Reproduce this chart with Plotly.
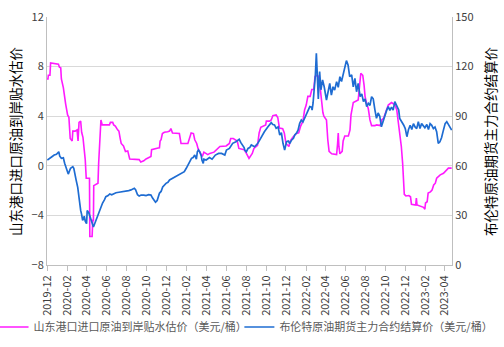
import plotly.graph_objects as go

# ---- data ----
blue_name = "布伦特原油期货主力合约结算价（美元/桶）"
pink_name = "山东港口进口原油到岸贴水估价（美元/桶）"

blue_dates = [
    "2019-12-02","2019-12-09","2019-12-16","2019-12-23","2019-12-30","2020-01-06","2020-01-09","2020-01-14",
    "2020-01-20","2020-01-24","2020-01-31","2020-02-04","2020-02-11","2020-02-18","2020-02-21","2020-02-25",
    "2020-02-28","2020-03-04","2020-03-06","2020-03-09","2020-03-13","2020-03-16","2020-03-19","2020-03-24",
    "2020-03-27","2020-03-31","2020-04-02","2020-04-07","2020-04-11","2020-04-15","2020-04-17","2020-04-21",
    "2020-04-24","2020-04-29","2020-05-05","2020-05-09","2020-05-14","2020-05-19","2020-05-25","2020-05-29",
    "2020-06-05","2020-06-10","2020-06-16","2020-06-22","2020-06-29","2020-07-08","2020-07-19","2020-07-30",
    "2020-08-07","2020-08-14","2020-08-24","2020-08-28","2020-09-03","2020-09-08","2020-09-14","2020-09-22",
    "2020-09-29","2020-10-07","2020-10-14","2020-10-19","2020-10-23","2020-10-28","2020-11-02","2020-11-09",
    "2020-11-14","2020-11-19","2020-11-29","2020-12-05","2020-12-10","2020-12-20","2020-12-30","2021-01-09",
    "2021-01-15","2021-01-24","2021-01-30","2021-02-04","2021-02-09","2021-02-15","2021-02-20","2021-02-25",
    "2021-03-02","2021-03-05","2021-03-08","2021-03-12","2021-03-17","2021-03-19","2021-03-23","2021-03-25",
    "2021-04-01","2021-04-11","2021-04-19","2021-04-29","2021-05-09","2021-05-18","2021-05-28","2021-06-02",
    "2021-06-11","2021-06-21","2021-07-01","2021-07-11","2021-07-16","2021-07-21","2021-07-26","2021-07-28",
    "2021-08-02","2021-08-07","2021-08-12","2021-08-17","2021-08-27","2021-09-06","2021-09-11","2021-09-16",
    "2021-09-26","2021-10-07","2021-10-17","2021-10-22","2021-10-27","2021-11-01","2021-11-07","2021-11-12",
    "2021-11-17","2021-11-22","2021-11-27","2021-12-03","2021-12-08","2021-12-13","2021-12-18","2021-12-24",
    "2021-12-28","2022-01-03","2022-01-07","2022-01-12","2022-01-17","2022-01-22","2022-01-27","2022-02-02",
    "2022-02-07","2022-02-12","2022-02-17","2022-02-19","2022-02-22","2022-02-25","2022-03-01","2022-03-04",
    "2022-03-07","2022-03-10","2022-03-14","2022-03-18","2022-03-23","2022-03-28","2022-04-04","2022-04-09",
    "2022-04-14","2022-04-19","2022-04-24","2022-04-29","2022-05-05","2022-05-10","2022-05-15","2022-05-20",
    "2022-05-25","2022-05-30","2022-06-04","2022-06-09","2022-06-14","2022-06-20","2022-06-25","2022-06-30",
    "2022-07-05","2022-07-10","2022-07-16","2022-07-21","2022-07-26","2022-07-31","2022-08-05","2022-08-10",
    "2022-08-15","2022-08-20","2022-08-25","2022-08-30","2022-09-04","2022-09-09","2022-09-14","2022-09-19",
    "2022-09-24","2022-09-30","2022-10-05","2022-10-10","2022-10-15","2022-10-20","2022-10-25","2022-10-30",
    "2022-11-06","2022-11-11","2022-11-14","2022-11-21","2022-11-26","2022-12-01","2022-12-06","2022-12-11",
    "2022-12-16","2022-12-21","2022-12-26","2022-12-31","2023-01-05","2023-01-10","2023-01-15","2023-01-20",
    "2023-01-25","2023-01-30","2023-02-05","2023-02-10","2023-02-15","2023-02-20","2023-02-25","2023-03-02",
    "2023-03-07","2023-03-12","2023-03-17","2023-03-22","2023-03-27","2023-04-02","2023-04-07","2023-04-12",
    "2023-04-17","2023-04-22",
]
blue_values = [
    63.5,64.8,65.5,66.5,67.0,68.5,65.8,64.5,
    64.8,61.5,57.5,55.0,58.5,59.5,58.5,55.5,
    51.5,47.0,44.0,37.0,33.0,30.5,27.0,29.5,
    26.5,25.0,33.0,31.5,29.0,27.5,25.5,23.0,
    24.5,27.0,30.5,33.0,35.0,37.5,39.5,41.3,
    42.0,43.0,42.5,43.3,43.7,44.0,44.3,44.5,
    45.0,45.4,46.4,45.5,42.5,41.7,42.3,42.3,
    42.0,42.5,42.3,40.5,39.5,38.0,39.0,43.4,
    44.5,47.2,49.4,50.0,51.4,52.5,53.4,55.0,
    55.5,56.4,58.5,60.5,62.5,64.5,65.0,66.5,
    64.0,68.5,69.5,68.5,66.0,63.5,61.5,64.0,
    63.5,65.0,64.0,66.5,67.5,67.5,66.5,69.5,
    70.5,73.6,74.6,76.0,74.0,72.6,71.0,69.5,
    68.5,70.5,71.0,72.6,71.5,73.6,75.6,77.6,
    80.6,83.6,86.1,85.0,84.7,82.7,83.5,78.6,
    80.0,73.6,69.5,74.6,75.0,73.5,75.5,76.6,
    78.6,80.0,81.6,85.7,87.7,86.5,88.7,90.7,
    93.7,95.8,95.5,93.7,98.0,103.8,114.9,128.0,
    112.0,100.5,117.0,106.0,112.0,107.8,99.8,105.8,
    109.9,102.8,107.8,105.8,110.9,107.5,113.9,111.0,
    115.9,118.9,123.6,121.0,113.9,115.0,107.8,112.9,
    104.8,109.9,101.8,103.5,98.8,100.5,95.8,97.8,
    96.5,101.8,100.5,94.0,88.7,92.0,90.0,83.6,
    87.0,91.7,93.5,95.8,93.5,95.5,93.7,98.8,
    96.0,93.7,88.7,86.7,84.7,82.5,77.6,82.0,
    84.5,82.0,85.5,83.5,82.5,86.7,82.5,85.5,
    84.0,83.0,85.0,82.0,85.5,84.5,82.5,83.5,
    80.6,73.6,74.5,77.0,81.0,85.5,86.7,85.0,
    82.7,81.6,
]

pink_dates = [
    "2019-12-01","2019-12-04","2019-12-05","2019-12-10","2019-12-12","2019-12-25","2020-01-05","2020-01-08",
    "2020-01-12","2020-01-14","2020-01-20","2020-01-27","2020-02-02","2020-02-06","2020-02-10","2020-02-16",
    "2020-02-18","2020-02-25","2020-03-02","2020-03-05","2020-03-08","2020-03-13","2020-03-16","2020-03-20",
    "2020-03-24","2020-03-27","2020-03-30","2020-04-09","2020-04-10","2020-04-17","2020-04-19","2020-04-21",
    "2020-04-22","2020-05-05","2020-05-07","2020-05-10","2020-05-14","2020-05-18","2020-06-09","2020-06-12",
    "2020-06-19","2020-06-22","2020-06-27","2020-07-04","2020-07-08","2020-07-12","2020-07-15","2020-07-22",
    "2020-07-28","2020-08-04","2020-08-07","2020-08-10","2020-09-08","2020-09-13","2020-09-22","2020-09-29",
    "2020-10-14","2020-10-16","2020-11-05","2020-11-09","2020-11-11","2020-11-14","2020-11-18","2020-11-24",
    "2020-12-04","2020-12-10","2020-12-14","2020-12-19","2021-01-09","2021-01-14","2021-02-04","2021-02-09",
    "2021-02-14","2021-02-21","2021-02-25","2021-03-03","2021-03-07","2021-03-12","2021-03-20","2021-03-25",
    "2021-04-06","2021-04-12","2021-04-25","2021-05-13","2021-06-01","2021-06-11","2021-06-15","2021-06-23",
    "2021-07-05","2021-07-10","2021-07-20","2021-07-26","2021-08-02","2021-08-07","2021-08-10","2021-08-20",
    "2021-08-25","2021-09-05","2021-09-10","2021-09-15","2021-09-30","2021-10-02","2021-10-12","2021-10-17",
    "2021-10-22","2021-11-01","2021-11-06","2021-11-11","2021-11-21","2021-11-26","2021-12-01","2021-12-10",
    "2021-12-14","2021-12-22","2022-01-02","2022-01-09","2022-01-15","2022-01-22","2022-01-27","2022-02-01",
    "2022-02-06","2022-02-13","2022-02-18","2022-02-24","2022-02-28","2022-03-06","2022-03-11","2022-03-14",
    "2022-03-19","2022-03-24","2022-03-27","2022-04-04","2022-04-08","2022-04-12","2022-04-20","2022-04-30",
    "2022-05-05","2022-05-08","2022-05-10","2022-05-12","2022-05-15","2022-05-22","2022-05-25","2022-05-30",
    "2022-06-10","2022-06-15","2022-06-18","2022-06-25","2022-07-05","2022-07-10","2022-07-18","2022-07-24",
    "2022-07-28","2022-07-31","2022-08-05","2022-08-10","2022-08-15","2022-08-20","2022-08-30","2022-09-05",
    "2022-09-15","2022-09-20","2022-09-26","2022-10-05","2022-10-10","2022-10-20","2022-10-31","2022-11-05",
    "2022-11-09","2022-11-13","2022-11-19","2022-11-23","2022-11-26","2022-11-28","2022-12-03","2022-12-12",
    "2022-12-17","2022-12-20","2023-01-02","2023-01-04","2023-01-06","2023-01-16","2023-01-26","2023-01-30",
    "2023-02-01","2023-02-06","2023-02-09","2023-02-16","2023-02-21","2023-02-26","2023-03-03","2023-03-07",
    "2023-03-18","2023-03-28","2023-04-07","2023-04-12","2023-04-22",
]
pink_values = [
    7.0,7.0,7.3,7.3,8.3,8.25,8.2,7.95,
    7.9,7.0,6.3,5.0,4.1,3.9,2.2,2.0,
    2.8,2.8,2.9,2.0,3.5,3.6,2.7,2.3,
    1.5,0.5,-1.0,-1.0,-5.7,-5.7,-4.4,-4.4,
    -1.6,-1.4,0.2,1.8,3.7,3.3,3.3,3.5,
    3.5,3.3,3.2,2.9,2.8,2.2,1.8,1.6,
    1.15,1.2,0.75,0.55,0.5,0.3,0.4,0.55,
    0.75,1.3,1.43,1.45,2.0,2.1,2.6,2.7,
    2.75,2.8,3.0,2.65,2.6,1.8,1.8,2.2,
    2.65,2.6,2.1,1.8,1.4,1.15,0.75,1.1,
    0.9,1.0,1.1,1.56,1.6,1.8,2.2,2.2,
    2.0,1.4,1.3,1.3,1.0,0.7,0.6,1.0,
    1.4,1.65,2.65,3.1,3.3,3.6,3.6,3.7,
    4.05,4.1,3.9,3.05,3.0,2.65,1.8,1.56,
    2.0,2.3,2.6,2.65,3.2,3.6,4.5,4.9,
    5.6,5.6,6.15,6.15,7.2,7.3,7.2,6.7,
    5.3,4.3,4.0,3.7,2.1,1.16,0.97,0.9,
    0.9,1.8,2.65,1.56,0.97,1.16,2.0,2.4,
    2.4,2.9,4.1,5.1,5.2,5.3,7.45,7.3,
    6.5,5.6,5.0,4.6,3.7,3.24,3.24,3.3,
    3.24,3.7,3.85,4.5,4.9,5.1,4.9,4.5,
    3.7,2.65,1.56,0.2,-1.1,-2.3,-2.43,-2.4,
    -2.5,-3.1,-3.16,-2.6,-3.16,-3.24,-3.35,-3.5,
    -3.0,-2.9,-2.2,-2.1,-1.95,-1.55,-1.4,-1.0,
    -0.73,-0.6,-0.3,-0.19,-0.19,
]

x_tick_vals = ["2019-12-01","2020-02-01","2020-04-01","2020-06-01","2020-08-01","2020-10-01","2020-12-01",
               "2021-02-01","2021-04-01","2021-06-01","2021-08-01","2021-10-01","2021-12-01",
               "2022-02-01","2022-04-01","2022-06-01","2022-08-01","2022-10-01","2022-12-01",
               "2023-02-01","2023-04-01"]
left_title = "山东港口进口原油到岸贴水估价"
right_title = "布伦特原油期货主力合约结算价"

FONT = "Noto Sans CJK SC"
TXT = "#404040"
AX = "#BFBFBF"

fig = go.Figure()
fig.add_trace(go.Scatter(x=pink_dates, y=pink_values, name=pink_name, mode="lines",
                         line=dict(color="#FF1AFF", width=1.6), yaxis="y", legend="legend"))
fig.add_trace(go.Scatter(x=blue_dates, y=blue_values, name=blue_name, mode="lines",
                         line=dict(color="#1E6CD2", width=1.7), yaxis="y2", legend="legend2"))

legend_common = dict(orientation="h", yanchor="middle", xanchor="left",
                     font=dict(family=FONT, size=11, color="#595959"),
                     bgcolor="rgba(0,0,0,0)", itemwidth=30)

fig.update_layout(
    width=504, height=347,
    margin=dict(l=47, r=52, t=17, b=82, autoexpand=False),
    paper_bgcolor="white", plot_bgcolor="white",
    font=dict(family=FONT, size=11, color=TXT),
    showlegend=True,
    legend=dict(x=-0.132, y=-0.25, **legend_common),
    legend2=dict(x=0.475, y=-0.25, **legend_common),
    xaxis=dict(type="date", range=["2019-12-01", "2023-04-23"],
               tickvals=x_tick_vals, tickformat="%Y-%m", tickangle=-90,
               ticks="outside", ticklen=5, tickcolor=AX,
               showline=True, linecolor=AX, linewidth=1, showgrid=False,
               tickfont=dict(family=FONT, size=11, color=TXT)),
    yaxis=dict(range=[-8, 12], dtick=4, tick0=-8, showgrid=True, gridcolor="#D9D9D9",
               zeroline=False, showline=True, linecolor=AX, ticks="",
               tickfont=dict(family=FONT, size=11, color=TXT)),
    yaxis2=dict(range=[0, 150], dtick=30, overlaying="y", side="right", showgrid=False,
                zeroline=False, showline=True, linecolor=AX, ticks="",
                tickfont=dict(family=FONT, size=11, color=TXT)),
    annotations=[
        dict(text=left_title, xref="paper", yref="paper", x=-0.079, y=0.5,
             xanchor="center", yanchor="middle", textangle=-90, showarrow=False,
             font=dict(family=FONT, size=13.5, color="#000000")),
        dict(text=right_title, xref="paper", yref="paper", x=1.094, y=0.5,
             xanchor="center", yanchor="middle", textangle=-90, showarrow=False,
             font=dict(family=FONT, size=13.5, color="#000000")),
    ],
)

fig.write_html("out.html")
